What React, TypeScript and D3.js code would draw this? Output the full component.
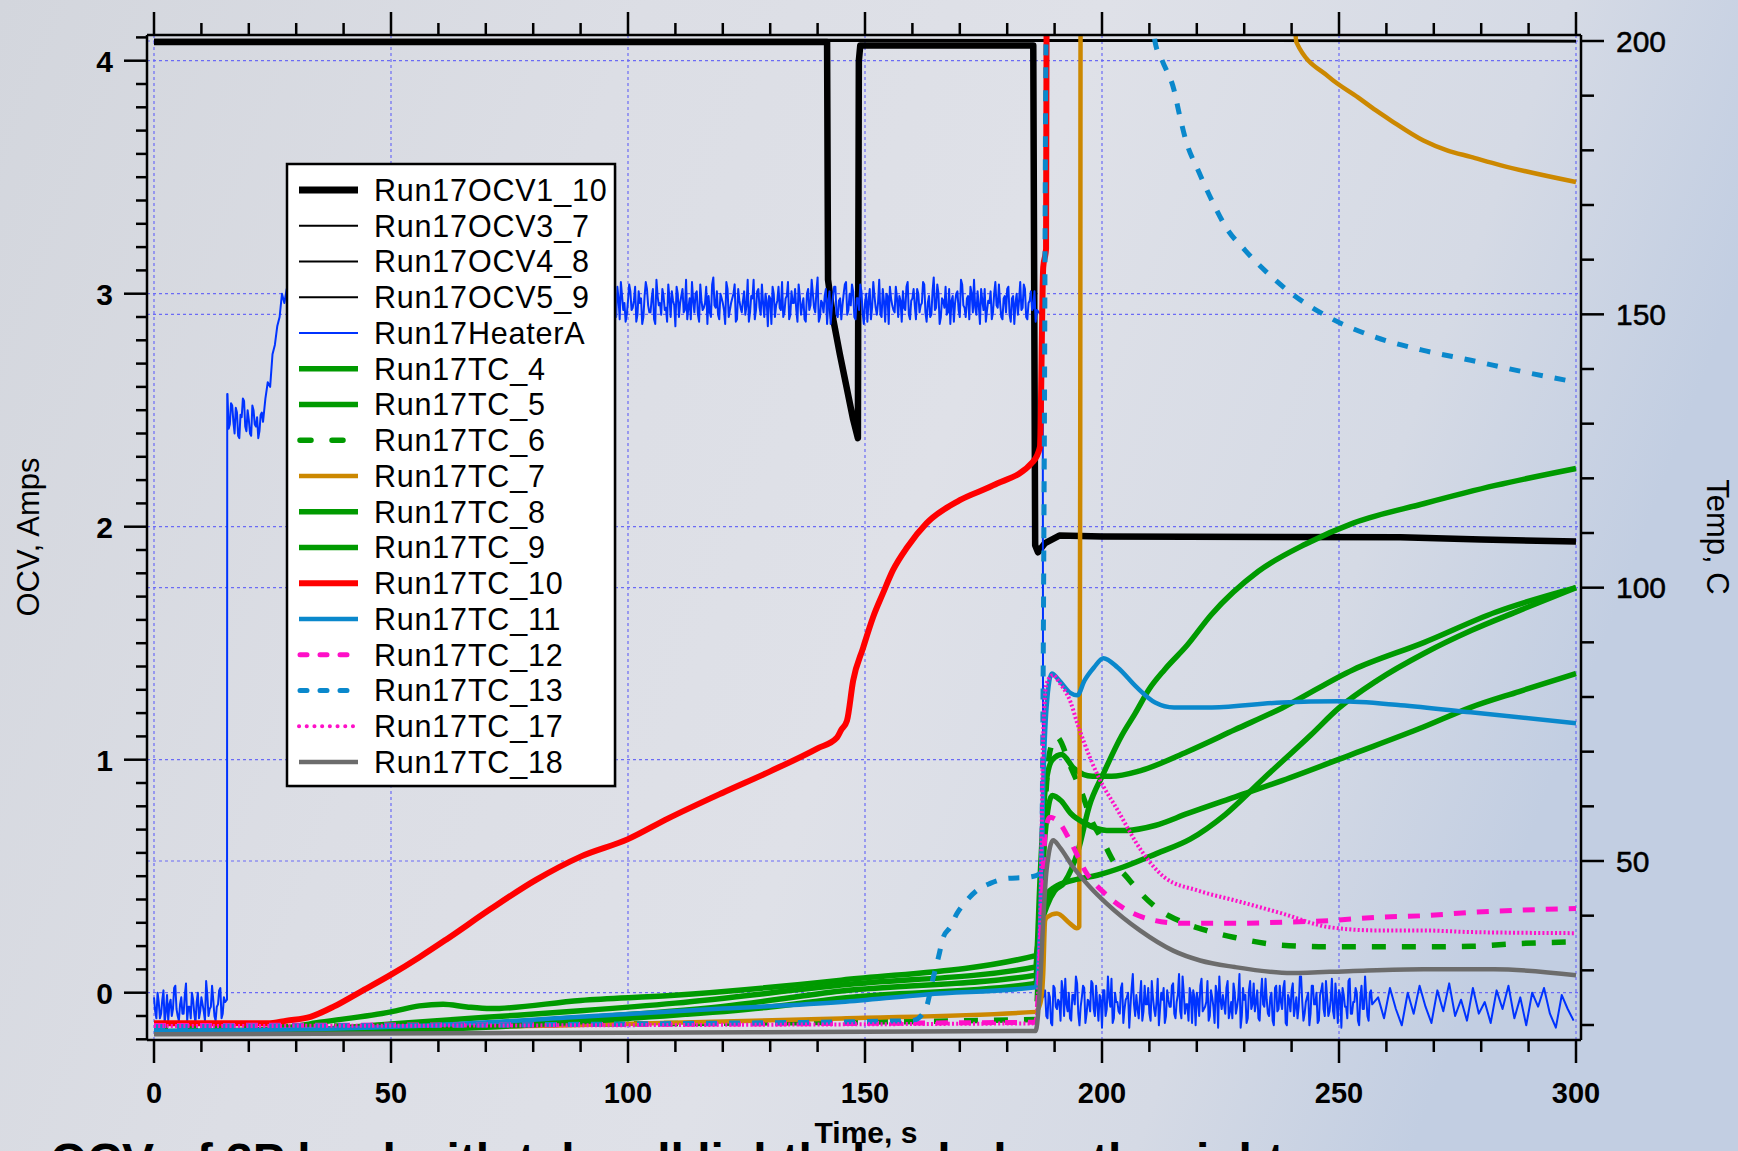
import React from 'react';
import * as d3 from 'd3';

const W = 1738;
const H = 1151;

// ---------- axes ----------
const xMajor = [0, 50, 100, 150, 200, 250, 300];
const ocvMajor = [0, 1, 2, 3, 4];
const tempMajor = [50, 100, 150, 200];

type P = [number, number];

// ---------- OCV series (left axis, V) ----------
const ocv1_10: P[] = [[0, 4.08], [142, 4.08], [142.2, 3.06], [143.3, 2.89], [144.7, 2.74], [146.1, 2.6], [147.5, 2.46], [148.5, 2.38], [148.7, 4.0], [149, 4.065], [185.5, 4.065], [185.9, 1.92], [186.5, 1.89], [188, 1.93], [191, 1.962], [200, 1.958], [263, 1.955], [280, 1.945], [300, 1.936]];
const ocv3_7: P[] = [[0, 4.09], [150, 4.09], [300, 4.086]];
const ocv4_8: P[] = [[0, 4.086], [190, 4.086], [300, 4.082]];
const ocv5_9: P[] = [[0, 4.083], [230, 4.085], [300, 4.084]];

// ---------- Heater current (left axis, A), hand-read noise in hundredths ----------
const heaterPre = [3, -6, 1, -4, 6, -3, -7, 2, -2, 8, -5, 0, -4, 4, -7, -1, 5, -4, 1, -6, 3, -3, 10, -5, -1, 2, -7, 0, 7, -4, 1]; // t 0..15 step 0.5, base -0.05
const heaterPreB = [-3, 5, -6, 2, -8, 4, 0, -5, 7, -2, -7, 3, -4, 9, -1, -6, 2, -8, 5, -3, 0, -7, 4, -2, 8, -5, -1, 6, -6, 3]; // t 0.25..14.75
const heaterStep1 = [11, -2, 6, -6, 3, -8, 1, 8, -5, 0, -7, 4, -3, -8, 2, -1]; // t 15.5..23, base 2.46
const heaterStep1B = [-4, 7, -1, 5, -7, 2, 9, -3, 4, -6, 6, -2, 1, -5, 3]; // t 15.75..22.75
const heaterRamp: P[] = [[23.5, 2.55], [24, 2.62], [24.5, 2.6], [25, 2.74], [25.5, 2.78], [26, 2.86], [26.5, 2.9], [27, 3.0], [27.5, 2.96], [28, 3.02]];
const heaterHidden = [2, -5, 4, -2, 6, -7, 1, 3, -4, 5, -1, -6, 2, 7, -3, 0, 4, -5, 1, -2, 6, -4, 3, -1, 5, -6, 2, 0, -3, 4, -2, 1, -5, 3]; // t 29..95 step 2, base 2.97
const heaterOn = [
  4, -6, 2, 9, -3, -8, 1, 5, -2, 7, -5, 0, -9, 3, 6, -4, 2, -7, 10, -1,
  -5, 3, -2, 8, -6, 1, -10, 4, 0, 6, -3, -7, 2, 9, -4, 5, -8, 1, -2, 7,
  3, -6, 11, -2, -5, 4, 0, -9, 6, -3, 2, 8, -7, 1, -4, 5, -1, -8, 3, 10,
  -3, 6, -5, 0, 4, -10, 2, 7, -6, 1, -2, 9, -4, 3, -7, 5, 0, -3, 8, -5,
  2, -8, 6, -1, 4, -4, 11, -6, 0, 3, -9, 5, -2, 7, -5, 1, -7, 4, 9, -3,
  -1, 5, -7, 2, 8, -4, 0, -8, 6, -2, 3, -5, 10, -6, 1, 4, -9, 2, -3, 7,
  -6, 1, 5, -3, 9, -7, 2, -1, 6, -4, 0, 8, -8, 3, -5, 11, -2, 4, -6, 1,
  7, -4, -9, 3, 0, 5, -6, 8, -2, 2, -7, 4, 10, -5, -1, 6, -3, -8, 1, 5,
  -4, 9, -2, 0, -7, 3, 6, -5, 2, -9, 4, 1, -3, 8, -6, 0, 5, -2, -8,
]; // t 97..186 step 0.5, base 2.96
const heaterOnB = [
  -2, 7, -7, 3, 0, -5, 8, -3, 1, -8, 5, 2, -6, 9, -1, -4, 6, -9, 3, 0,
  6, -3, -8, 2, 5, -1, 7, -6, 3, -4, 10, -2, -7, 1, 4, -5, 8, -3, 0, -9,
  -4, 8, -1, 5, -7, 2, -3, 9, -6, 0, 4, -8, 6, -2, 1, -5, 10, -4, 2, -7,
  5, -2, 8, -6, 1, 3, -9, 4, -1, 7, -3, -6, 2, 9, -5, 0, 6, -8, 3, -1,
  -7, 4, -3, 10, -2, 5, -8, 1, -4, 6, 0, -9, 3, 7, -6, 2, -1, 8, -5, 4,
  8, -6, 2, -3, 5, -9, 4, 1, -7, 9, -2, 0, -5, 6, -8, 3, 7, -1, -4, 2,
  3, -8, -2, 7, -5, 1, 6, -7, 4, -1, 9, -4, 0, -6, 5, -3, 8, -9, 2, -2,
  -5, 6, 1, -8, 4, -3, 10, -1, -6, 3, 7, -4, -2, 5, -9, 1, 6, -3, 0, -7,
  4, -1, 8, -6, 2, -4, 7, -8, 3, 0, -5, 9, -2, 6, -7, 1, -3, 5,
]; // t 97.25..185.75
const heaterOff = [
  5, -7, 2, -10, 6, -3, 0, 9, -6, -1, 4, -8, 3, 11, -5, -2, 7, -9, 1, -4,
  8, -6, -1, 3, -11, 5, -3, 2, 10, -7, 0, -4, 6, -9, 1, 4, -2, 12, -6, -3,
  2, -8, 7, -1, -5, 9, -3, 0, -10, 4, 6, -6, 1, -2, 8, -7, 3, -4, 11, -5,
  -1, 6, -9, 2, 4, -6, 10, -3, 0, -8, 5, -2, 7, -11, 1, 3, -5, 9, -4, -7,
  4, -2, 12, -6, 1, -9, 5, -3, 8, 0, -7, 3, -1, 10, -5, 2, -8, 6, -4, 7,
  -3, 9, -10, 1, 5, -6, 2, -2, 11, -8, 0, 4, -5, 7, -1, -9, 3, 8, -6, 2,
  -4, 10, -7, 1, 5, -11, 3, -2, 9, -5, 0, 6, -8, 2, -3, 11, -6, 4, -1,
]; // t 188..257 step 0.5, base -0.04
const heaterOffB = [
  -6, 4, -9, 7, -2, 1, -8, 5, 10, -4, -7, 3, -1, 8, -10, 2, 6, -5, 0, 9,
  -3, 7, -8, 1, 5, -6, 11, -2, -9, 4, 0, -5, 8, -3, 2, -11, 6, -1, 3, -7,
  9, -4, -1, 6, -8, 2, -6, 10, -3, 1, -9, 5, -2, 7, -5, 0, 12, -7, 4, -1,
  -8, 3, 5, -10, 1, 7, -4, -2, 9, -6, 2, -9, 4, 11, -3, -1, 6, -7, 0, 8,
  -5, 2, -11, 6, 3, -7, 9, -1, -4, 5, -8, 10, -2, 1, -6, 4, -10, 7, -3, 0,
  6, -9, 3, -4, 8, -2, -7, 11, 0, -5, 2, -10, 7, -1, 4, -8, 5, -3, 9, -6,
  1, -4, 8, -9, 3, 6, -2, -7, 10, -5, 0, 4, -10, 7, -3, 2, -8, 5,
]; // t 188.25..256.75
const heaterSlow = [3, -6, 7, -2, -9, 5, -4, 8, -1, -8, 6, -3, 9, -5, 2, -7, 7, -4, 1, -8, 6, -2, 8, -6, 3, -9, 5, -1, 7, -4, -10, 4, -2, -7]; // t 258.25..299.5 step 1.25, base -0.05

// ---------- Thermocouples (right axis, C) ----------
const tc4: P[] = [[0, 18.8], [25, 19.2], [35, 20.5], [50, 22.4], [56, 23.5], [61, 23.8], [66, 23.3], [71, 23], [90, 24.5], [109, 25.4], [145, 28.2], [186, 32.7], [187, 38], [188.5, 42], [190, 44.5], [192, 46], [195, 52], [197.3, 60], [200.3, 66], [204.2, 73], [207, 77], [210, 81.5], [213.2, 85], [218, 89.5], [223, 95], [233, 103], [243, 108], [253, 111.8], [268, 115.4], [283, 118.7], [300, 121.8]];
const tc5: P[] = [[0, 18.7], [30, 19], [50, 20.2], [70, 21.4], [90, 22.6], [110, 24], [145, 27.3], [186, 30.6], [187, 48], [188, 63], [189.5, 68.5], [191.5, 69.5], [194, 67], [198, 65.5], [202, 65.5], [208, 66.5], [218, 70], [228, 74], [238, 78], [253, 85], [268, 90], [283, 95.5], [300, 100]];
const tc6: P[] = [[0, 19.6], [100, 20.2], [186, 21], [187, 40], [188, 60], [189, 70], [190.4, 72.7], [193.4, 67.2], [195.8, 62.3], [198, 57], [200, 54], [202.3, 50.1], [205.3, 47], [208.3, 44], [212.2, 41], [216.2, 39.1], [222, 37.3], [228, 36], [238, 34.6], [248, 34.3], [258, 34.3], [268, 34.3], [278, 34.4], [288, 34.9], [300, 35.2]];
const tc7: P[] = [[0, 18.8], [45, 19], [60, 19.5], [90, 20], [145, 21.2], [186, 22.4], [187, 24], [187.6, 29.4], [188, 39.1], [188.4, 39.7], [190.5, 40.4], [193.2, 38.6], [194.7, 37.7], [195.2, 38], [195.4, 120], [195.5, 215], [240, 215], [241, 199.8], [247.9, 193.4], [254, 189.7], [257.8, 187.3], [260.9, 185.5], [267.8, 181.8], [272.8, 180], [277.8, 178.8], [284, 177.3], [300, 174.2]];
const tc8: P[] = [[0, 18.6], [35, 18.9], [60, 19.8], [90, 21.3], [120, 23.4], [145, 26.2], [186, 29.1], [187, 38], [188.5, 44], [190, 45.2], [194, 46.5], [199, 47.4], [204.5, 48.9], [211.6, 51.4], [218.6, 54], [226, 58.5], [234, 65], [244, 73], [250, 78], [258, 83], [268, 88], [278, 92.2], [288, 95.8], [300, 100]];
const tc9: P[] = [[0, 18.5], [40, 18.8], [70, 19.6], [100, 21.2], [130, 23.3], [145, 24.9], [186, 27.6], [187, 40], [188, 55], [189.5, 62], [191.4, 61], [193.4, 58.7], [196.4, 56.9], [201, 55.6], [205.3, 55.6], [211.2, 56.5], [218.1, 58.7], [228, 61.7], [238, 64.7], [253, 69.6], [267.8, 74.5], [277.8, 78.1], [288, 81], [300, 84.3]];
const tc10: P[] = [[0, 20.3], [24, 20.3], [28, 20.8], [33, 21.5], [38, 23.4], [43, 25.8], [50, 29.2], [56, 32.4], [61.6, 35.6], [71, 41.2], [80.5, 46.5], [90, 50.8], [100, 54], [108.5, 57.8], [120, 62.5], [130, 66.4], [140, 70.6], [144.1, 72.6], [145, 74], [146.2, 75.7], [147.5, 83], [149.6, 89], [151.7, 94.6], [153.8, 99], [155.9, 103.2], [158.9, 107.4], [163, 111.8], [170, 116], [177, 118.7], [185.4, 123], [186.9, 125.7], [187.6, 158.6], [188.2, 162], [188.3, 201]];
const tc11: P[] = [[0, 18.9], [30, 19.2], [60, 20], [90, 21.5], [120, 23], [145, 24.2], [163, 25.6], [186, 26.9], [187, 40], [187.6, 64], [188.3, 78], [189.4, 84.3], [191, 83], [193.4, 80.7], [194.8, 80.3], [196.3, 83], [198.3, 85.4], [200.3, 87.1], [203.3, 85.4], [207.3, 81.8], [211.2, 79], [215.2, 78.1], [223.2, 78.1], [238, 79], [250, 79.2], [263, 78.5], [277.8, 77.2], [300, 75.2]];
const tc12: P[] = [[0, 19.9], [186, 20.5], [186.8, 30], [187.3, 40], [188, 55], [189, 58], [191, 57], [193.2, 53.8], [196.8, 47.7], [200.3, 44.3], [205.3, 41], [208.7, 39.7], [216.5, 38.6], [228, 38.6], [238, 38.8], [248, 39.1], [258, 39.7], [268, 40], [278, 40.6], [288, 41], [300, 41.3]];
const tc13: P[] = [[0, 19.7], [100, 20.2], [160, 20.8], [162.7, 22.7], [164.4, 28.7], [165.5, 32.4], [166.5, 36], [168, 37.9], [169.4, 40.4], [171.1, 42.4], [173.6, 44.6], [176.4, 45.9], [179.9, 46.8], [184.1, 47], [186.3, 47.4], [187.2, 48], [187.8, 120], [188.2, 200], [189, 215], [210, 215], [211.2, 199.8], [212.7, 196.4], [215.2, 191], [216.3, 186.7], [217.7, 181.8], [220.3, 176.3], [223.2, 170.8], [226.1, 166], [230.2, 161.7], [235, 157.5], [240, 153.8], [248, 149.4], [257.8, 145.8], [267.8, 143.4], [277.8, 141.6], [287.7, 139.7], [300, 137.6]];
const tc17: P[] = [[0, 19.8], [186, 20.3], [187, 40], [187.6, 73.3], [188.3, 82.5], [189.7, 84], [191.1, 82.5], [192.5, 80.7], [193.4, 79], [194.6, 75.7], [196.3, 71.5], [199.3, 65.3], [203.3, 59.3], [208.3, 51.9], [213.2, 47], [220.2, 44.6], [228, 42.8], [238, 40.4], [247.9, 37.9], [257.9, 37.3], [267.8, 37.3], [277.8, 37], [300, 36.8]];
const tc18: P[] = [[0, 18.3], [100, 18.6], [186, 18.9], [186.2, 19.5], [186.9, 26.9], [187.6, 39.1], [188.3, 48.3], [189.7, 53.8], [191.1, 52.5], [193.9, 48.9], [197.5, 45.2], [201, 42.2], [208, 37.3], [215, 33.6], [220.7, 31.8], [228, 30.6], [240, 29.5], [253, 29.9], [267.8, 30.2], [282.7, 30.2], [300, 29.1]];

const legendNames = ['Run17OCV1_10', 'Run17OCV3_7', 'Run17OCV4_8', 'Run17OCV5_9', 'Run17HeaterA', 'Run17TC_4', 'Run17TC_5', 'Run17TC_6', 'Run17TC_7', 'Run17TC_8', 'Run17TC_9', 'Run17TC_10', 'Run17TC_11', 'Run17TC_12', 'Run17TC_13', 'Run17TC_17', 'Run17TC_18'];

// ---------- styles ----------
const BLACK = '#000000';
const HEATER = '#0033ff';
const GREEN = '#009a00';
const ORANGE = '#cc8800';
const RED = '#ff0000';
const CYANBLUE = '#0a88cc';
const MAGENTA = '#ff10c8';
const GRAY = '#6c6c6c';

type Style = { color: string; width: number; dash?: string; legendDash?: string; legendWidth?: number; legendX1?: number; legendX2?: number; smooth?: boolean };
const styles: Style[] = [
  { color: BLACK, width: 6.5, legendWidth: 7 },
  { color: BLACK, width: 2 },
  { color: BLACK, width: 2 },
  { color: BLACK, width: 2 },
  { color: HEATER, width: 2 },
  { color: GREEN, width: 5.5, smooth: true },
  { color: GREEN, width: 5.5, smooth: true },
  { color: GREEN, width: 5.5, dash: '14,16', legendDash: '11,21', legendX1: 300, legendX2: 348, smooth: true },
  { color: ORANGE, width: 4.5, smooth: true },
  { color: GREEN, width: 5.5, smooth: true },
  { color: GREEN, width: 5.5, smooth: true },
  { color: RED, width: 6, smooth: true },
  { color: CYANBLUE, width: 4.5, smooth: true },
  { color: MAGENTA, width: 5, dash: '12,11', legendDash: '7,13', legendX1: 300, legendX2: 360, smooth: true },
  { color: CYANBLUE, width: 5, dash: '11,12', legendDash: '7,13', legendX1: 300, legendX2: 360, smooth: true },
  { color: MAGENTA, width: 4, dash: '2,2.2', legendDash: '0.1,7.6', legendX1: 299, legendX2: 358, smooth: true },
  { color: GRAY, width: 4.5, smooth: true },
];

export default function App() {
  const x = d3.scaleLinear().domain([0, 300]).range([154, 1576]);
  const yL = d3.scaleLinear().domain([0, 4]).range([992.7, 60.7]);
  const yR = d3.scaleLinear().domain([50, 200]).range([861, 41]);

  const frameL = 147, frameR = 1581, frameT = 35, frameB = 1040;

  const heater: P[] = [];
  heaterPre.forEach((o, i) => heater.push([i * 0.5, -0.05 + o / 100]));
  heaterPreB.forEach((o, i) => heater.push([0.25 + i * 0.5, -0.05 + o / 100]));
  heater.push([15.4, -0.03]);
  heater.push([15.45, 2.57]);
  heaterStep1.forEach((o, i) => heater.push([15.5 + i * 0.5, 2.46 + o / 100]));
  heaterStep1B.forEach((o, i) => heater.push([15.75 + i * 0.5, 2.46 + o / 100]));
  heaterRamp.forEach((p) => heater.push(p));
  heaterHidden.forEach((o, i) => heater.push([29 + i * 2, 2.97 + o / 100]));
  heaterOn.forEach((o, i) => heater.push([97 + i * 0.5, 2.96 + o / 100]));
  heaterOnB.forEach((o, i) => heater.push([97.25 + i * 0.5, 2.96 + o / 100]));
  heater.push([186.3, 2.93]);
  heater.push([187.5, 2.9]);
  heater.push([187.6, -0.02]);
  heaterOff.forEach((o, i) => heater.push([188 + i * 0.5, -0.04 + o / 100]));
  heaterOffB.forEach((o, i) => heater.push([188.25 + i * 0.5, -0.04 + o / 100]));
  heaterSlow.forEach((o, i) => heater.push([258.25 + i * 1.25, -0.05 + o / 100]));
  heater.sort((a, b) => a[0] - b[0]);

  const lineL = d3.line<P>().x((d) => x(d[0])).y((d) => yL(d[1]));
  const lineR = d3.line<P>().x((d) => x(d[0])).y((d) => yR(d[1]));
  const lineRs = d3.line<P>().x((d) => x(d[0])).y((d) => yR(d[1])).curve(d3.curveMonotoneX);

  const series: { data: P[]; left: boolean }[] = [
    { data: ocv1_10, left: true },
    { data: ocv3_7, left: true },
    { data: ocv4_8, left: true },
    { data: ocv5_9, left: true },
    { data: heater, left: true },
    { data: tc4, left: false },
    { data: tc5, left: false },
    { data: tc6, left: false },
    { data: tc7, left: false },
    { data: tc8, left: false },
    { data: tc9, left: false },
    { data: tc10, left: false },
    { data: tc11, left: false },
    { data: tc12, left: false },
    { data: tc13, left: false },
    { data: tc17, left: false },
    { data: tc18, left: false },
  ];

  const xMinor = d3.range(0, 301, 10);
  const ocvMinor = d3.range(-2, 42, 1).map((v) => v / 10).filter((v) => yL(v) <= frameB + 0.5 && yL(v) >= frameT);
  const tempMinor = d3.range(20, 201, 10);

  const gridColor = '#6b6bf5';
  const font = "'Liberation Sans', Arial, sans-serif";

  const legX = 287, legY = 164, legW = 328, legH = 622;
  const rowY0 = 190, rowDy = 35.75;

  return (
    <svg width={W} height={H} style={{ position: 'fixed', left: 0, top: 0, display: 'block' }} xmlns="http://www.w3.org/2000/svg">
      <defs>
        <linearGradient id="bg" x1="0" y1="0" x2="1" y2="0.25">
          <stop offset="0" stopColor="#d3d6dd" />
          <stop offset="0.35" stopColor="#dcdee5" />
          <stop offset="0.6" stopColor="#dfe1e8" />
          <stop offset="0.85" stopColor="#d5dae5" />
          <stop offset="1" stopColor="#c2cee2" />
        </linearGradient>
        <clipPath id="plotClip">
          <rect x={frameL} y={frameT} width={frameR - frameL} height={frameB - frameT} />
        </clipPath>
      </defs>
      <rect x={0} y={0} width={W} height={H} fill="url(#bg)" />

      {/* grid */}
      <g stroke={gridColor} strokeWidth={1.2} strokeDasharray="3,3" fill="none">
        {xMajor.map((t) => (
          <line key={'gx' + t} x1={x(t)} x2={x(t)} y1={frameT} y2={frameB} />
        ))}
        {ocvMajor.map((v) => (
          <line key={'gl' + v} x1={frameL} x2={frameR} y1={yL(v)} y2={yL(v)} />
        ))}
        {tempMajor.map((v) => (
          <line key={'gr' + v} x1={frameL} x2={frameR} y1={yR(v)} y2={yR(v)} />
        ))}
      </g>

      {/* data */}
      <g clipPath="url(#plotClip)" fill="none" strokeLinejoin="round">
        {series.map((s, i) => {
          const st = styles[i];
          const gen = s.left ? lineL : st.smooth ? lineRs : lineR;
          const d = gen(s.data);
          return (
            <path
              key={'s' + i}
              d={d || ''}
              stroke={st.color}
              strokeWidth={st.width}
              strokeDasharray={st.dash}
              strokeLinecap="butt"
            />
          );
        })}
      </g>

      {/* axes frame */}
      <g stroke="#000" strokeWidth={2.5} fill="none">
        <line x1={frameL} x2={frameR} y1={frameT} y2={frameT} />
        <line x1={frameL} x2={frameR} y1={frameB} y2={frameB} />
        <line x1={frameL} x2={frameL} y1={frameT} y2={frameB} />
        <line x1={frameR} x2={frameR} y1={frameT} y2={frameB} />
      </g>
      {/* ticks */}
      <g stroke="#000" strokeWidth={2.5}>
        {xMinor.map((t) => {
          const major = t % 50 === 0;
          const len = major ? 23 : 12;
          return (
            <g key={'xt' + t}>
              <line x1={x(t)} x2={x(t)} y1={frameT} y2={frameT - len} />
              <line x1={x(t)} x2={x(t)} y1={frameB} y2={frameB + len} />
            </g>
          );
        })}
        {ocvMinor.map((v) => {
          const major = Math.abs(v - Math.round(v)) < 1e-6;
          const len = major ? 23 : 11;
          return <line key={'lt' + v} x1={frameL} x2={frameL - len} y1={yL(v)} y2={yL(v)} />;
        })}
        {tempMinor.map((v) => {
          const major = v % 50 === 0;
          const len = major ? 23 : 13;
          return <line key={'rt' + v} x1={frameR} x2={frameR + len} y1={yR(v)} y2={yR(v)} />;
        })}
      </g>

      {/* tick labels */}
      <g fontFamily={font} fill="#000">
        {xMajor.map((t) => (
          <text key={'xl' + t} x={x(t)} y={1103} textAnchor="middle" fontSize={29} fontWeight="bold">
            {String(t)}
          </text>
        ))}
        {ocvMajor.map((v) => (
          <text key={'ll' + v} x={113} y={yL(v)} dy="0.36em" textAnchor="end" fontSize={30} fontWeight="bold">
            {String(v)}
          </text>
        ))}
        {tempMajor.map((v) => (
          <text key={'rl' + v} x={1616} y={yR(v)} dy="0.36em" textAnchor="start" fontSize={30} stroke="#000" strokeWidth={0.5}>
            {String(v)}
          </text>
        ))}
      </g>

      {/* axis titles */}
      <text x={0} y={0} transform="translate(39,537) rotate(-90)" textAnchor="middle" fontFamily={font} fontSize={31} fill="#000">
        OCV, Amps
      </text>
      <text x={0} y={0} transform="translate(1707,537) rotate(90)" textAnchor="middle" fontFamily={font} fontSize={31} fill="#000">
        Temp, C
      </text>

      {/* slide caption, cut off by the lower picture edge as in the photo */}
      <text x={50} y={1177} fontFamily={font} fontSize={48} fontWeight="bold" fill="#000">
        OCV of 3P load with tab cell lightly loaded on the right
      </text>
      <text x={866} y={1143} textAnchor="middle" fontFamily={font} fontSize={30} fontWeight="bold" fill="#000">
        Time, s
      </text>

      {/* legend */}
      <g>
        <rect x={legX + 2} y={legY + 2} width={legW} height={legH} fill="#9aa0aa" opacity={0.35} />
        <rect x={legX} y={legY} width={legW} height={legH} fill="#ffffff" stroke="#000" strokeWidth={2.5} />
        {legendNames.map((name, i) => {
          const st = styles[i];
          const cy = rowY0 + i * rowDy;
          return (
            <g key={'lg' + i}>
              <line
                x1={st.legendX1 ?? 299}
                x2={st.legendX2 ?? 358}
                y1={cy}
                y2={cy}
                stroke={st.color}
                strokeWidth={st.legendWidth ?? st.width}
                strokeDasharray={st.legendDash}
                strokeLinecap={st.legendDash ? 'round' : 'butt'}
              />
              <text x={374} y={cy} dy="0.36em" fontFamily={font} fontSize={30.5} letterSpacing={0.8} fill="#000">
                {name}
              </text>
            </g>
          );
        })}
      </g>
    </svg>
  );
}
